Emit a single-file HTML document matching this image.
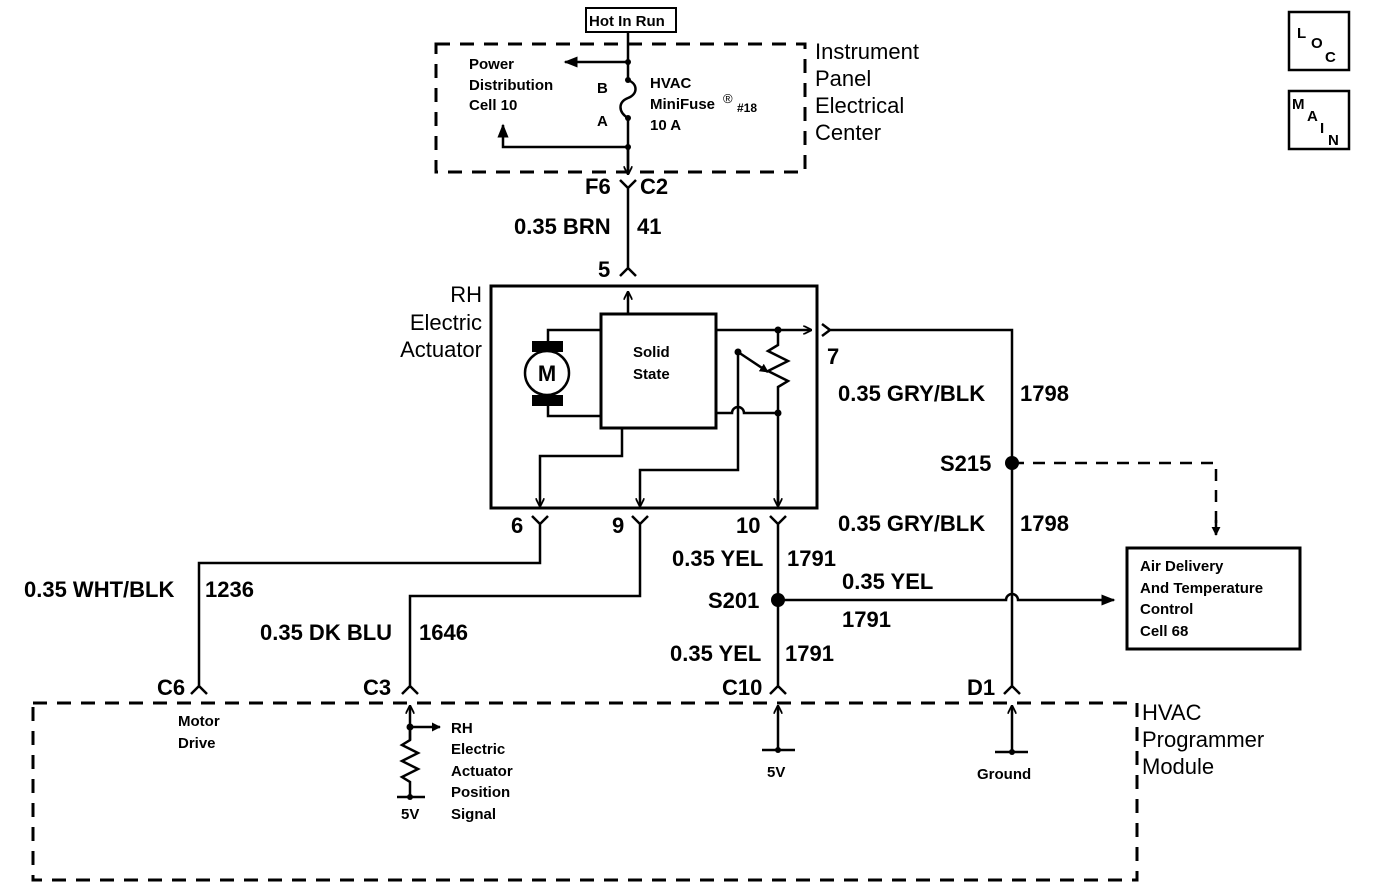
<!DOCTYPE html>
<html><head><meta charset="utf-8"><style>
body{margin:0;background:#fff}
svg{display:block}
text{font-family:"Liberation Sans",sans-serif;fill:#000}
.L{font-size:22px;font-weight:bold}
.T{font-size:22px}
.S{font-size:15px;font-weight:bold}
</style></head><body>
<svg width="1392" height="888" viewBox="0 0 1392 888" xmlns="http://www.w3.org/2000/svg">
<defs><marker id="a" viewBox="0 0 10 10" refX="9" refY="5" markerWidth="9" markerHeight="9" markerUnits="userSpaceOnUse" orient="auto"><path d="M0,0L10,5L0,10z"/></marker>
<marker id="o" viewBox="0 0 10 10" refX="9" refY="5" markerWidth="9" markerHeight="9" markerUnits="userSpaceOnUse" orient="auto"><path d="M0,0L10,5L0,10" fill="none" stroke="#000" stroke-width="2"/></marker>
<marker id="b" viewBox="0 0 10 10" refX="9" refY="5" markerWidth="14" markerHeight="14" markerUnits="userSpaceOnUse" orient="auto"><path d="M0,1L10,5L0,9z"/></marker></defs>
<g fill="none" stroke="#000" stroke-width="2.5">
<rect x="586" y="8" width="90" height="24" stroke-width="2"/>
<rect x="436" y="44" width="369" height="128" stroke-width="3" stroke-dasharray="14,10"/>
<rect x="33" y="703" width="1104" height="177" stroke-width="3" stroke-dasharray="14,10"/>
<path d="M628 32V80M628 118V172"/>
<path d="M628 80c10 4 10 14 0 18c-10 4-10 14 0 20"/>
<path d="M628 62H565" marker-end="url(#b)"/>
<path d="M628 147H503V125" marker-end="url(#b)"/>
<path d="M628 147V174" marker-end="url(#o)"/>
<path d="M620 180L628 188L636 180M628 188V270M620 276L628 268L636 276"/>
<rect x="491" y="286" width="326" height="222" stroke-width="3"/>
<rect x="601" y="314" width="115" height="114" stroke-width="3"/>
<path d="M628 314V292" marker-end="url(#o)"/>
<circle cx="547" cy="373" r="22"/>
<path d="M548 342V330H601M548 405V416H601"/>
<path d="M716 330H811" marker-end="url(#o)"/>
<path d="M778 330V345l-10 6l20 10l-20 10l20 10l-10 6V413"/>
<path d="M738 352L768 372" marker-end="url(#a)"/>
<path d="M716 413H732a6 6 0 0 1 12 0H778V506" />
<path d="M778 490V506" marker-end="url(#o)"/>
<path d="M738 352V470H640V506" marker-end="url(#o)"/>
<path d="M622 428V456H540V506" marker-end="url(#o)"/>
<path d="M532 516L540 524L548 516M540 524V563H199V688M191 694L199 686L207 694"/>
<path d="M632 516L640 524L648 516M640 524V596H410V688M402 694L410 686L418 694"/>
<path d="M770 516L778 524L786 516M778 524V688M770 694L778 686L786 694"/>
<path d="M822 324L830 330L822 336M830 330H1012V688M1004 694L1012 686L1020 694"/>
<path d="M1012 463H1216V533" stroke-dasharray="12,9"/>
<path d="M1216 520V535" marker-end="url(#a)"/>
<path d="M778 600H1006a6 6 0 0 1 12 0H1114" marker-end="url(#b)"/>
<rect x="1127" y="548" width="173" height="101" stroke-width="3"/>
<path d="M778 750V706" marker-end="url(#o)"/><path d="M762 750H795"/>
<path d="M1012 752V706" marker-end="url(#o)"/><path d="M995 752H1028"/>
<path d="M410 740V706" marker-end="url(#o)"/>
<path d="M410 727H440" marker-end="url(#a)"/>
<path d="M410 727V740l-8 5l16 8l-16 8l16 8l-16 8l8 5V797M397 797H425"/>
<rect x="1289" y="12" width="60" height="58" stroke-width="2.5"/>
<rect x="1289" y="91" width="60" height="58" stroke-width="2.5"/>
</g>
<g fill="#000">
<rect x="532" y="341" width="31" height="11"/><rect x="532" y="395" width="31" height="11"/>
<circle cx="628" cy="62" r="3"/><circle cx="628" cy="80" r="3"/><circle cx="628" cy="118" r="3"/><circle cx="628" cy="147" r="3"/>
<circle cx="778" cy="330" r="3.5"/><circle cx="738" cy="352" r="3.5"/><circle cx="778" cy="413" r="3.5"/>
<circle cx="1012" cy="463" r="7"/><circle cx="778" cy="600" r="7"/><circle cx="410" cy="727" r="3.5"/><circle cx="410" cy="797" r="3"/>
<circle cx="778" cy="750" r="3"/><circle cx="1012" cy="752" r="3"/>
</g>
<text x="589" y="26" class="S">Hot In Run</text>
<text class="S"><tspan x="469" y="69">Power</tspan><tspan x="469" y="90">Distribution</tspan><tspan x="469" y="110">Cell 10</tspan></text>
<text x="597" y="93" class="S">B</text><text x="597" y="126" class="S">A</text>
<text class="S"><tspan x="650" y="88">HVAC</tspan><tspan x="650" y="109">MiniFuse</tspan><tspan x="650" y="130">10 A</tspan></text>
<text x="723" y="103" font-size="13">®</text><text x="737" y="112" font-size="12" font-weight="bold">#18</text>
<text class="T"><tspan x="815" y="59">Instrument</tspan><tspan x="815" y="86">Panel</tspan><tspan x="815" y="113">Electrical</tspan><tspan x="815" y="140">Center</tspan></text>
<text x="585" y="194" class="L">F6</text><text x="640" y="194" class="L">C2</text>
<text x="514" y="234" class="L">0.35 BRN</text><text x="637" y="234" class="L">41</text>
<text x="598" y="277" class="L">5</text>
<text class="T" text-anchor="end"><tspan x="482" y="302">RH</tspan><tspan x="482" y="330">Electric</tspan><tspan x="482" y="357">Actuator</tspan></text>
<text x="547" y="381" class="L" text-anchor="middle">M</text>
<text class="S"><tspan x="633" y="357">Solid</tspan><tspan x="633" y="379">State</tspan></text>
<text x="827" y="364" class="L">7</text>
<text x="838" y="401" class="L">0.35 GRY/BLK</text><text x="1020" y="401" class="L">1798</text>
<text x="940" y="471" class="L">S215</text>
<text x="838" y="531" class="L">0.35 GRY/BLK</text><text x="1020" y="531" class="L">1798</text>
<text x="511" y="533" class="L">6</text><text x="612" y="533" class="L">9</text><text x="736" y="533" class="L">10</text>
<text x="672" y="566" class="L">0.35 YEL</text><text x="787" y="566" class="L">1791</text>
<text x="708" y="608" class="L">S201</text>
<text x="842" y="589" class="L">0.35 YEL</text><text x="842" y="627" class="L">1791</text>
<text x="670" y="661" class="L">0.35 YEL</text><text x="785" y="661" class="L">1791</text>
<text class="S"><tspan x="1140" y="571">Air Delivery</tspan><tspan x="1140" y="593">And Temperature</tspan><tspan x="1140" y="614">Control</tspan><tspan x="1140" y="636">Cell 68</tspan></text>
<text x="24" y="597" class="L">0.35 WHT/BLK</text><text x="205" y="597" class="L">1236</text>
<text x="260" y="640" class="L">0.35 DK BLU</text><text x="419" y="640" class="L">1646</text>
<text x="157" y="695" class="L">C6</text><text x="363" y="695" class="L">C3</text><text x="722" y="695" class="L">C10</text><text x="967" y="695" class="L">D1</text>
<text class="S"><tspan x="178" y="726">Motor</tspan><tspan x="178" y="748">Drive</tspan></text>
<text class="S"><tspan x="451" y="733">RH</tspan><tspan x="451" y="754">Electric</tspan><tspan x="451" y="776">Actuator</tspan><tspan x="451" y="797">Position</tspan><tspan x="451" y="819">Signal</tspan></text>
<text x="401" y="819" class="S">5V</text><text x="767" y="777" class="S">5V</text><text x="977" y="779" class="S">Ground</text>
<text class="T"><tspan x="1142" y="720">HVAC</tspan><tspan x="1142" y="747">Programmer</tspan><tspan x="1142" y="774">Module</tspan></text>
<text class="S" font-size="14"><tspan x="1297" y="38">L</tspan><tspan x="1311" y="48">O</tspan><tspan x="1325" y="62">C</tspan></text>
<text class="S" font-size="14"><tspan x="1292" y="109">M</tspan><tspan x="1307" y="121">A</tspan><tspan x="1320" y="133">I</tspan><tspan x="1328" y="145">N</tspan></text>
</svg>
</body></html>
